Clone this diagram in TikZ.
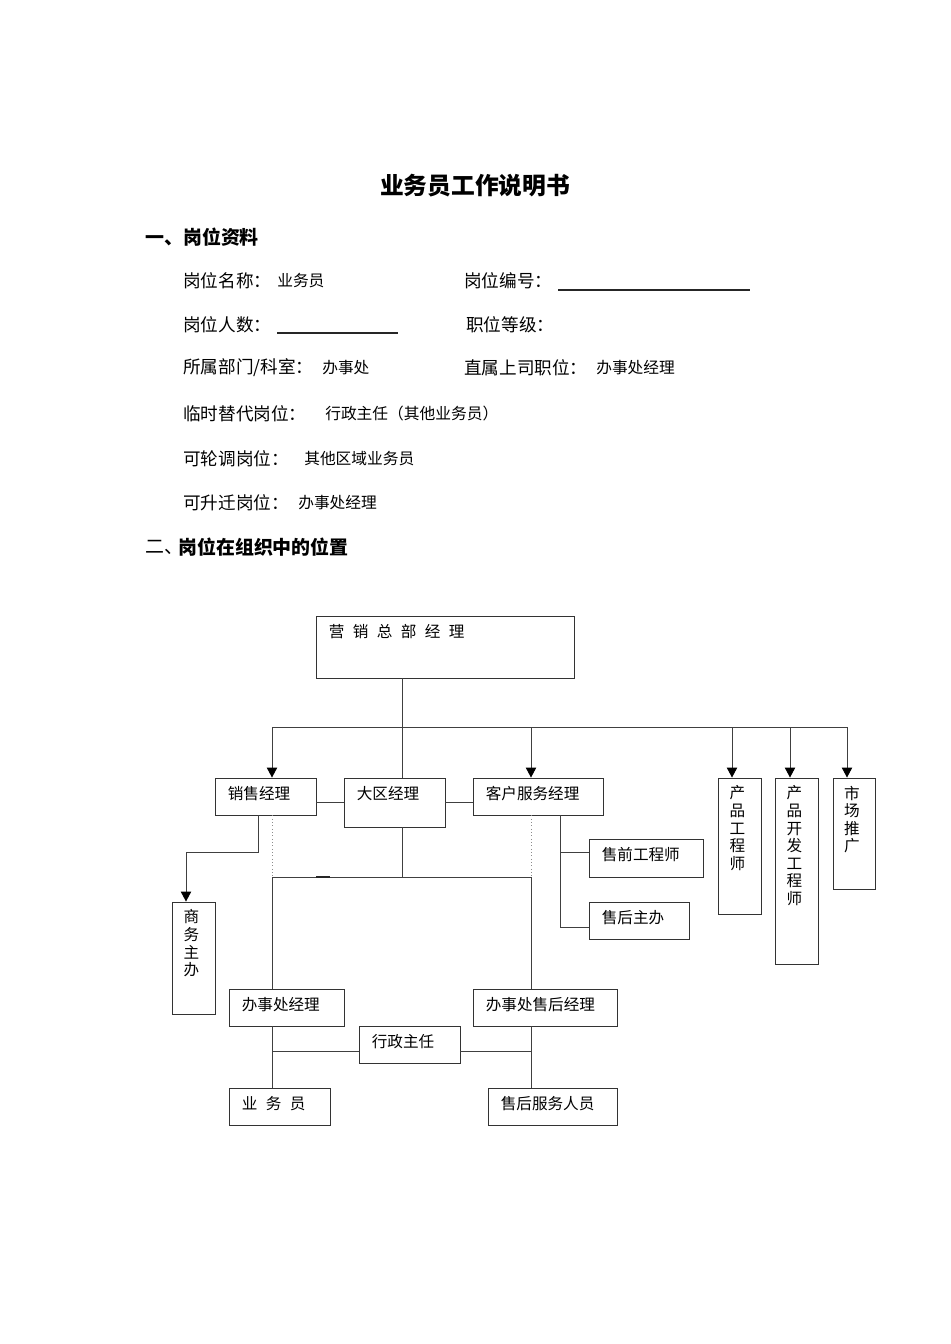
\documentclass[tikz,border=0pt]{standalone}
\usepackage{fontspec}
\setmainfont{Noto Sans CJK SC}
\usetikzlibrary{arrows.meta,fit,calc}
\newcommand\orgbox[6]{%
  \node[obox, fit={(#2,#3) (#4,#5)}] (#1) {};
  \node[otext, anchor=west] (#1-t) at ($(#1.north west)+(13,16)$) {#6};}
\newcommand\orgvbox[6]{%
  \node[obox, fit={(#2,#3) (#4,#5)}] (#1) {};
  \node[vtext, anchor=north] (#1-t) at ($(#1.north)+(-2,8)$) {#6};}
\begin{document}
\begin{tikzpicture}[x=0.75pt,y=-0.75pt,
  ln/.style={draw=black!75, line width=0.7pt},
  dotline/.style={draw=black!45, line width=0.5pt, dotted},
  obox/.style={draw=black!80, line width=0.7pt, inner sep=0pt},
  otext/.style={inner sep=0pt, font=\fontsize{11.7}{13.2}\selectfont},
  vtext/.style={inner sep=0pt, align=center, font=\fontsize{11.7}{13.2}\selectfont},
  arr/.style={ln, -{Triangle[width=7.8pt,length=7.5pt,color=black]}},
  lab/.style={inner sep=0pt, anchor=west, font=\fontsize{13.2}{15}\selectfont},
  val/.style={inner sep=0pt, anchor=west, font=\fontsize{11.8}{14}\selectfont},
  head/.style={inner sep=0pt, anchor=west, font=\fontsize{14.2}{16}\selectfont\bfseries},
  uline/.style={draw=black!85, line width=1pt}]
\fill[white] (0,0) rectangle (950,1344);
\useasboundingbox (0,0) rectangle (950,1344);

% ---- header text
\node[inner sep=0pt, font=\fontsize{17.8}{20}\selectfont\bfseries] (title) at (475,186) {业务员工作说明书};
\node[head] (h1) at (145,237) {一、岗位资料};

\node[lab] (l1) at (183,281) {岗位名称：};
\node[val] (v1) at (277,281) {业务员};
\node[lab] (l2) at (464,281) {岗位编号：};
\coordinate (u1a) at (558,290); \coordinate (u1b) at (750,290);
\draw[uline] (u1a) -- (u1b);

\node[lab] (l3) at (183,325) {岗位人数：};
\coordinate (u2a) at (277,333); \coordinate (u2b) at (398,333);
\draw[uline] (u2a) -- (u2b);
\node[lab] (l4) at (466,325) {职位等级：};

\node[lab] (l5) at (183,368) {所属部门/科室：};
\node[val] (v5) at (322,368) {办事处};
\node[lab] (l6) at (464,368) {直属上司职位：};
\node[val] (v6) at (596,368) {办事处经理};

\node[lab] (l7) at (183,414) {临时替代岗位：};
\node[val] (v7) at (325,414) {行政主任（其他业务员）};
\node[lab] (l8) at (183,459) {可轮调岗位：};
\node[val] (v8) at (304,459) {其他区域业务员};
\node[lab] (l9) at (183,503) {可升迁岗位：};
\node[val] (v9) at (298,503) {办事处经理};

\node[inner sep=0pt, anchor=west, font=\fontsize{14.2}{16}\selectfont] (h2a) at (145,547) {二、};
\node[head] (h2b) at (178,547) {岗位在组织中的位置};

% ---- org chart boxes
\orgbox{gm}{316}{616}{574}{678}{营\hspace{6.3pt}销\hspace{6.3pt}总\hspace{6.3pt}部\hspace{6.3pt}经\hspace{6.3pt}理}
\orgbox{xs}{215}{778}{316}{815}{销售经理}
\orgbox{dq}{344}{778}{445}{827}{大区经理}
\orgbox{kf}{473}{778}{603}{815}{客户服务经理}
\orgvbox{cpg}{718}{778}{761}{914}{产\\品\\工\\程\\师}
\orgvbox{kfg}{775}{778}{818}{964}{产\\品\\开\\发\\工\\程\\师}
\orgvbox{sc}{833}{778}{875}{889}{市\\场\\推\\广}
\orgvbox{swzb}{172}{902}{215}{1014}{商\\务\\主\\办}
\orgbox{sq}{589}{839}{703}{877}{售前工程师}
\orgbox{shzb}{589}{902}{689}{939}{售后主办}
\orgbox{bsc}{229}{989}{344}{1026}{办事处经理}
\orgbox{bsh}{473}{989}{617}{1026}{办事处售后经理}
\orgbox{xz}{359}{1026}{460}{1063}{行政主任}
\orgbox{ywy}{229}{1088}{330}{1125}{业\hspace{6.3pt}务\hspace{6.3pt}员}
\orgbox{shfw}{488}{1088}{617}{1125}{售后服务人员}

% ---- connectors
\coordinate (bL) at (272,727);
\coordinate (cx) at (402,727);
\coordinate (b2) at (531,727);
\coordinate (b3) at (732,727);
\coordinate (b4) at (790,727);
\coordinate (bR) at (847,727);
\draw[ln] (bL) -- (bR);
\draw[ln] (cx |- gm.south) -- (cx |- dq.north);
\draw[arr] (bL) -- (bL |- xs.north);
\draw[arr] (b2) -- (b2 |- kf.north);
\draw[arr] (b3) -- (b3 |- cpg.north);
\draw[arr] (b4) -- (b4 |- kfg.north);
\draw[arr] (bR) -- (bR |- sc.north);

\draw[ln] (dq.west) -- (dq.west -| xs.east);
\draw[ln] (dq.east) -- (dq.east -| kf.west);

\coordinate (s1) at (258,852);
\coordinate (s2) at (186,852);
\draw[arr] (s1 |- xs.south) -- (s1) -- (s2) -- (s2 |- swzb.north);

\coordinate (m1) at (272,877);
\coordinate (m2) at (531,877);
\draw[dotline] (m1 |- xs.south) -- (m1);
\draw[dotline] (m2 |- kf.south) -- (m2);
\draw[ln] (m1) -- (m2);
\draw[draw=black!85, line width=1.4pt] ($(m1)+(44,0)$) -- ($(m1)+(58,0)$);
\draw[ln] (cx |- dq.south) -- (cx |- m1);
\draw[ln] (m1) -- (m1 |- bsc.north);
\draw[ln] (m2) -- (m2 |- bsh.north);

\coordinate (k1) at (560,927);
\coordinate (k2) at (560,852);
\draw[ln] (k1 |- kf.south) -- (k1) -- (k1 -| shzb.west);
\draw[ln] (k2) -- (k2 -| sq.west);

\coordinate (w1) at (272,1051);
\coordinate (w2) at (531,1051);
\draw[ln] (w1 |- bsc.south) -- (w1 |- ywy.north);
\draw[ln] (w1) -- (w1 -| xz.west);
\draw[ln] (xz.east |- w2) -- (w2);
\draw[ln] (w2 |- bsh.south) -- (w2 |- shfw.north);
\end{tikzpicture}
\end{document}
